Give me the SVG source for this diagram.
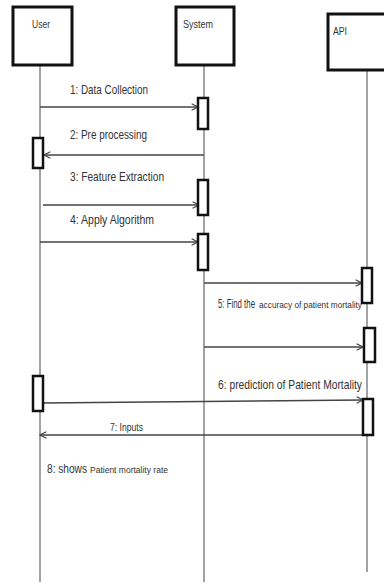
<svg xmlns="http://www.w3.org/2000/svg" width="384" height="584" viewBox="0 0 384 584">
<defs>
<style>
.box{fill:#fff;stroke:#111;stroke-width:3}
.act{fill:#fff;stroke:#111;stroke-width:2.5}
.life{stroke:#666;stroke-width:1.2;fill:none}
.msg{stroke:#444;stroke-width:1.4;fill:none}
.t{font-family:"Liberation Sans",Arial,sans-serif;fill:#333}
.n{font-size:10px}
.m{font-size:13px}
.s{font-size:9.5px}
.i{font-size:10px}
</style>
<marker id="ah" viewBox="0 0 10 10" refX="9" refY="5" markerWidth="8" markerHeight="8" markerUnits="userSpaceOnUse" orient="auto">
<path d="M1,1 L9,5 L1,9" fill="none" stroke="#444" stroke-width="1.4"/>
</marker>
</defs>
<rect width="384" height="584" fill="#fff"/>
<g id="lifelines">
<line class="life" x1="40" y1="66" x2="40" y2="582"/>
<line class="life" x1="204" y1="66" x2="204" y2="582"/>
<line class="life" x1="367" y1="70" x2="367" y2="572"/>
</g>
<g id="user">
<rect class="box" x="13" y="7" width="59" height="58"/>
<text class="t n" transform="translate(32,28) scale(0.65,1)" textLength="27.7" lengthAdjust="spacingAndGlyphs">User</text>
</g>
<g id="system">
<rect class="box" x="176" y="7" width="58" height="58"/>
<text class="t n" transform="translate(183,28) scale(0.65,1)" textLength="46.2" lengthAdjust="spacingAndGlyphs">System</text>
</g>
<g id="api">
<rect class="box" x="328" y="14" width="62" height="56"/>
<text class="t n" transform="translate(333,35) scale(0.65,1)" textLength="21.5" lengthAdjust="spacingAndGlyphs">API</text>
</g>
<g id="labels">
<text class="t m" transform="translate(70,94) scale(0.6,1)" textLength="130" lengthAdjust="spacingAndGlyphs">1: Data Collection</text>
<text class="t m" transform="translate(70,139) scale(0.6,1)" textLength="128.3" lengthAdjust="spacingAndGlyphs">2: Pre processing</text>
<text class="t m" transform="translate(70,181) scale(0.6,1)" textLength="156.7" lengthAdjust="spacingAndGlyphs">3: Feature Extraction</text>
<text class="t m" transform="translate(70,224) scale(0.6,1)" textLength="140" lengthAdjust="spacingAndGlyphs">4: Apply Algorithm</text>
<text class="t m" transform="translate(218,308) scale(0.6,1)" textLength="61.7" lengthAdjust="spacingAndGlyphs">5: Find the</text>
<text class="t s" transform="translate(259,308) scale(0.6,1)" textLength="171.7" lengthAdjust="spacingAndGlyphs">accuracy of patient mortality</text>
<text class="t m" transform="translate(218,389) scale(0.6,1)" textLength="240" lengthAdjust="spacingAndGlyphs">6: prediction of Patient Mortality</text>
<text class="t i" transform="translate(110,431) scale(0.65,1)" textLength="50.8" lengthAdjust="spacingAndGlyphs">7: Inputs</text>
<text class="t m" transform="translate(47,473) scale(0.6,1)" textLength="66.7" lengthAdjust="spacingAndGlyphs">8: shows</text>
<text class="t s" transform="translate(90,473) scale(0.6,1)" textLength="130" lengthAdjust="spacingAndGlyphs">Patient mortality rate</text>
</g>
<g id="connectors">
<line class="msg" x1="40" y1="107" x2="198" y2="107" marker-end="url(#ah)"/>
<line class="msg" x1="204" y1="155" x2="44" y2="155" marker-end="url(#ah)"/>
<line class="msg" x1="43" y1="205" x2="199" y2="205" marker-end="url(#ah)"/>
<line class="msg" x1="40" y1="242" x2="198" y2="242" marker-end="url(#ah)"/>
<line class="msg" x1="204" y1="283" x2="362" y2="283" marker-end="url(#ah)"/>
<line class="msg" x1="204" y1="347" x2="363" y2="347" marker-end="url(#ah)"/>
<line class="msg" x1="43" y1="403" x2="363" y2="400" marker-end="url(#ah)"/>
<line class="msg" x1="363" y1="435" x2="40" y2="435" marker-end="url(#ah)"/>
</g>
<g id="activations">
<rect class="act" x="198" y="98" width="10" height="31"/>
<rect class="act" x="33" y="138" width="10" height="30"/>
<rect class="act" x="198" y="180" width="10" height="35"/>
<rect class="act" x="198" y="234" width="10" height="36"/>
<rect class="act" x="362" y="268" width="10" height="35"/>
<rect class="act" x="364" y="328" width="11" height="34"/>
<rect class="act" x="33" y="376" width="10" height="35"/>
<rect class="act" x="363" y="399" width="10" height="36"/>
</g>
</svg>
